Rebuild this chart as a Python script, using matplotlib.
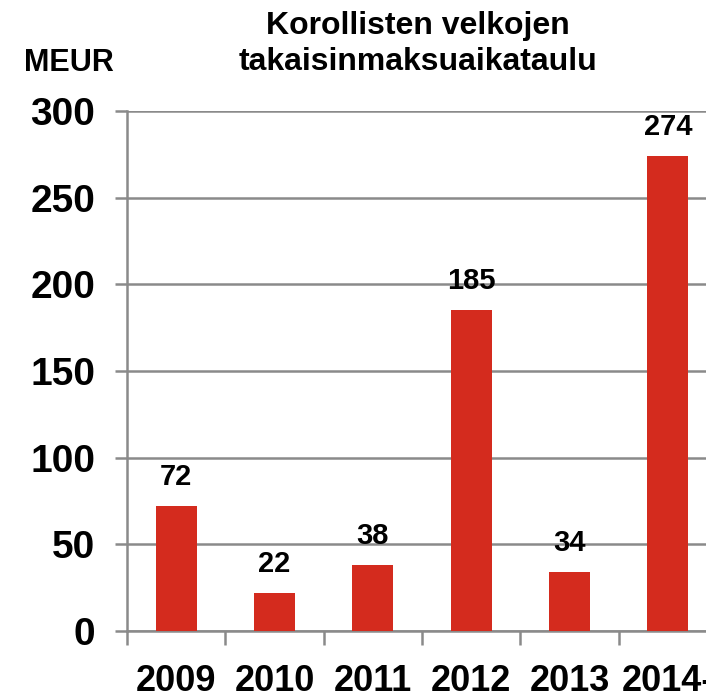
import matplotlib
matplotlib.use("Agg")
import matplotlib.pyplot as plt
import numpy as np

years = ["2009", "2010", "2011", "2012", "2013", "2014-"]
values = [72, 22, 38, 185, 34, 274]
yticks = [0, 50, 100, 150, 200, 250, 300]

plt.rcParams["font.family"] = ["Liberation Sans", "DejaVu Sans"]
plt.rcParams["font.weight"] = "bold"

fig = plt.figure(figsize=(7.06, 7.0), dpi=100)
ax = fig.add_axes([127/706, 69/700, 590/706, 520/700])

x = np.arange(len(years))
gray = "#8a8a8a"
ax.bar(x, values, width=0.42, color="#D42B1E", zorder=3)
ax.set_xlim(-0.5, 5.5)
ax.set_ylim(0, 300)
ax.set_yticks(yticks)
ax.set_yticklabels([str(t) for t in yticks], fontsize=28, fontweight="bold")
ax.yaxis.grid(True, color=gray, linewidth=1.8, zorder=0)
ax.tick_params(axis="y", length=9, width=1.8, color=gray, pad=14)

ax.set_xticks(x)
ax.set_xticklabels(years, fontsize=26, fontweight="bold")
ax.tick_params(axis="x", which="major", length=0, pad=24)
ax.set_xticks(np.arange(-0.5, 6.0, 1.0), minor=True)
ax.tick_params(axis="x", which="minor", length=10, width=1.8, color=gray)

for s in ["top", "right"]:
    ax.spines[s].set_visible(False)
for s in ["left", "bottom"]:
    ax.spines[s].set_color(gray)
    ax.spines[s].set_linewidth(1.8)

for xi, v in zip(x, values):
    ax.annotate(str(v), (xi, v), xytext=(0, 11), textcoords="offset points",
                ha="center", va="bottom", fontsize=21, fontweight="bold")

fig.text(418/706, 1 - 44/700, "Korollisten velkojen\ntakaisinmaksuaikataulu",
         ha="center", va="center", fontsize=23, fontweight="bold", linespacing=1.25)
fig.text(69/706, 1 - 63/700, "MEUR", ha="center", va="center", fontsize=22, fontweight="bold")

fig.savefig("out.png", dpi=100)
